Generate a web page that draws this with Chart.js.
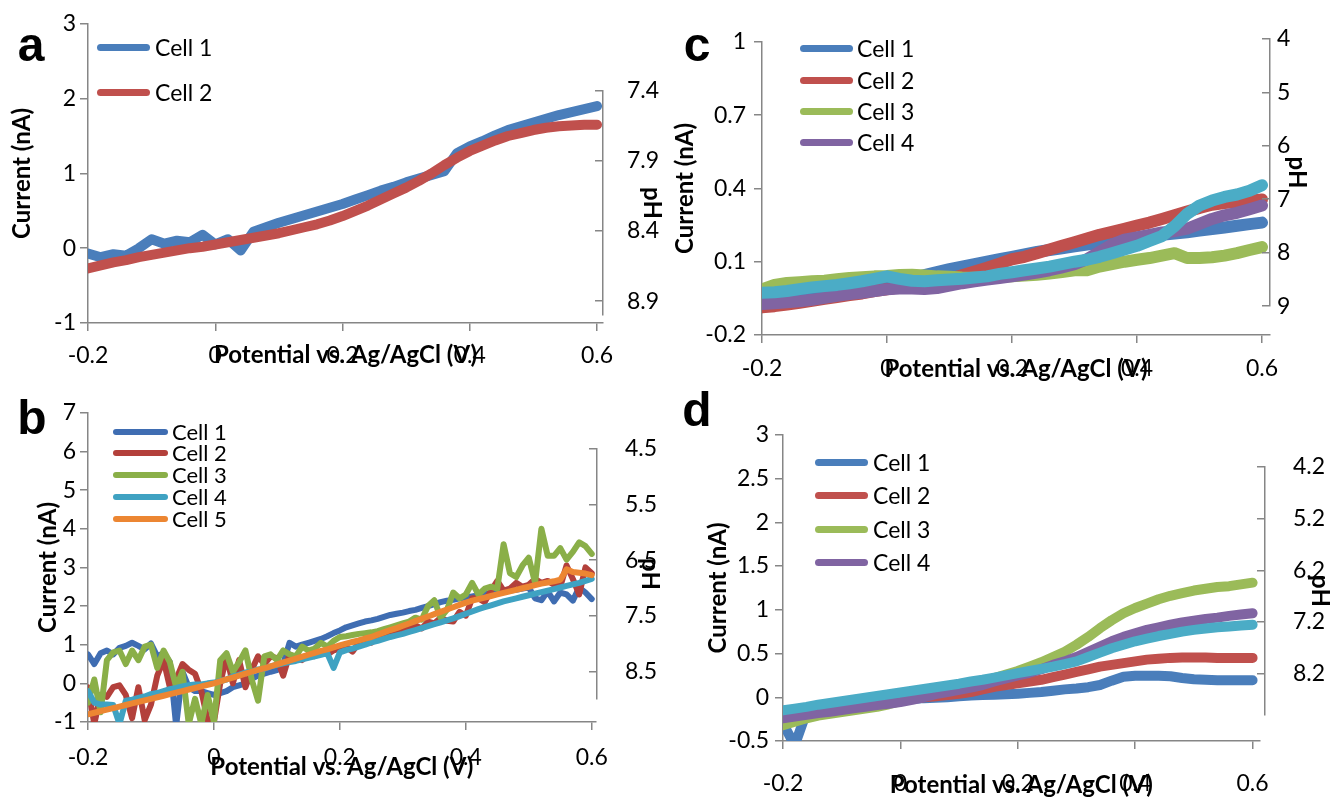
<!DOCTYPE html>
<html>
<head>
<meta charset="utf-8">
<script src="https://cdn.jsdelivr.net/npm/chart.js@4.4.1/dist/chart.umd.min.js"></script>
<style>
  body { margin: 0; background: #fff; width: 1336px; height: 801px; position: relative; overflow: hidden; }
  canvas { position: absolute; }
  .letter { position: absolute; font: bold 48px "Liberation Sans", Arial, sans-serif; transform: translate(-50%, -50%); line-height: 1; }
  .legline { position: absolute; }
  .legtext { position: absolute; font-family: Lato, sans-serif; color: #000; transform: translateY(-50%); line-height: 1; white-space: nowrap; }
</style>
</head>
<body>
<script>
// x values (potential, V)
const potential20 = [-0.2, -0.18, -0.16, -0.14, -0.12, -0.1, -0.08, -0.06, -0.04, -0.02, 0, 0.02, 0.04, 0.06, 0.08, 0.1, 0.12, 0.14, 0.16, 0.18, 0.2, 0.22, 0.24, 0.26, 0.28, 0.3, 0.32, 0.34, 0.36, 0.38, 0.4, 0.42, 0.44, 0.46, 0.48, 0.5, 0.52, 0.54, 0.56, 0.58, 0.6];
const potential10 = [-0.2, -0.19, -0.18, -0.17, -0.16, -0.15, -0.14, -0.13, -0.12, -0.11, -0.1, -0.09, -0.08, -0.07, -0.06, -0.05, -0.04, -0.03, -0.02, -0.01, 0, 0.01, 0.02, 0.03, 0.04, 0.05, 0.06, 0.07, 0.08, 0.09, 0.1, 0.11, 0.12, 0.13, 0.14, 0.15, 0.16, 0.17, 0.18, 0.19, 0.2, 0.21, 0.22, 0.23, 0.24, 0.25, 0.26, 0.27, 0.28, 0.29, 0.3, 0.31, 0.32, 0.33, 0.34, 0.35, 0.36, 0.37, 0.38, 0.39, 0.4, 0.41, 0.42, 0.43, 0.44, 0.45, 0.46, 0.47, 0.48, 0.49, 0.5, 0.51, 0.52, 0.53, 0.54, 0.55, 0.56, 0.57, 0.58, 0.59, 0.6];
const potentialTicks = [-0.2, 0, 0.2, 0.4, 0.6];
const cellNames = ["Cell 1", "Cell 2", "Cell 3", "Cell 4", "Cell 5"];

// panel a
const aCell1 = [-0.07, -0.12, -0.08, -0.10, 0.0, 0.12, 0.06, 0.10, 0.08, 0.18, 0.05, 0.12, -0.03, 0.22, 0.28, 0.34, 0.39, 0.44, 0.49, 0.54, 0.59, 0.65, 0.71, 0.77, 0.82, 0.88, 0.93, 0.98, 1.03, 1.27, 1.36, 1.43, 1.51, 1.58, 1.63, 1.68, 1.73, 1.78, 1.82, 1.86, 1.90];
const aCell2 = [-0.27, -0.23, -0.19, -0.16, -0.12, -0.09, -0.06, -0.03, 0.0, 0.02, 0.05, 0.08, 0.11, 0.14, 0.17, 0.20, 0.24, 0.28, 0.32, 0.37, 0.43, 0.50, 0.57, 0.65, 0.73, 0.81, 0.90, 1.00, 1.11, 1.21, 1.30, 1.37, 1.44, 1.50, 1.54, 1.58, 1.61, 1.63, 1.64, 1.65, 1.65];
const aCurrentTicks = [-1, 0, 1, 2, 3];
const aPhTicks = [7.4, 7.9, 8.4, 8.9];

// panel b
const bCell1 = [0.75, 0.5, 0.78, 0.85, 0.75, 0.92, 0.97, 1.05, 0.97, 0.88, 1.03, 0.7, 0.78, 0.55, -1.1,
  0.3, -0.1, -0.2, -0.2, -0.25, -0.3, -0.25, -0.2, -0.1, -0.05, 0.0, 0.12, 0.2, 0.25, 0.3, 0.34, 0.5, 1.05, 0.95, 1.0, 1.05, 1.1, 1.15, 1.22, 1.3, 1.37,
  1.45, 1.5, 1.55, 1.6, 1.63, 1.67, 1.72, 1.77, 1.8, 1.83, 1.87, 1.9, 1.95, 2.0, 2.05, 2.1, 2.14, 2.16, 2.2, 2.22, 2.25, 2.28, 2.3, 2.33, 2.35, 2.38, 2.4, 2.42, 2.45, 2.48, 2.2, 2.15, 2.38, 2.12, 2.35, 2.3, 2.14, 2.48, 2.35, 2.18];
const bCell2 = [-0.1, -1.05, -0.3, -0.35, -0.1, -0.05, -0.3, -0.9, -0.1, -0.95, -0.55, 0.2, 0.6, -0.1, 0.1, 0.5, 0.35, 0.25, -0.2, -0.95, -1.0, 0.0, 0.7, 0.0, 0.6, -0.1, 0.35, 0.7, 0.5, 0.7, 0.65, 0.2, 0.75, 0.65, 0.6, 0.75, 0.7, 0.8, 0.75, 0.85, 0.9,
  0.95, 0.82, 1.05, 1.1, 1.05, 1.2, 1.25, 1.35, 1.32, 1.4, 1.45, 1.5, 1.42, 1.6, 1.55, 1.7, 1.62, 1.6, 1.85, 1.75, 2.2, 2.2, 2.1, 2.4, 2.65, 2.4, 2.45, 2.6, 2.5, 2.55, 2.7, 2.6, 2.65, 2.55, 2.5, 3.05, 2.7, 2.3, 3.0, 2.85];
const bCell3 = [-0.5, 0.1, -0.75, 0.6, 0.8, 0.85, 0.5, 0.85, 0.6, 0.95, 1.0, 0.4, 0.85, 0.55, -0.1, 0.3, -1.05, -0.4, -1.05, -0.3, -1.0, 0.6, 0.78, 0.3, 0.55, 0.85, 0.1, -0.45, 0.7, 0.75, 0.6, 0.85, 0.75, 0.7, 0.95, 0.85, 0.9, 1.05, 0.95, 1.1, 1.2,
  1.22, 1.25, 1.28, 1.3, 1.32, 1.35, 1.4, 1.45, 1.5, 1.55, 1.6, 1.7, 1.65, 2.0, 2.15, 1.7, 1.9, 2.35, 2.2, 2.3, 2.6, 2.3, 2.45, 2.5, 2.45, 3.6, 2.85, 2.75, 3.05, 3.25, 2.6, 4.0, 3.3, 3.3, 3.5, 3.2, 3.4, 3.65, 3.55, 3.35];
const bCell4 = [-0.2, -0.5, -0.55, -0.55, -0.56, -1.05, -0.45, -0.42, -0.38, -0.34, -0.28, -0.25, -0.2, -0.15, -0.12, -0.08, -0.05, -0.03, -0.03, 0.0, 0.02, 0.06, 0.1, 0.18, 0.22, 0.28, 0.3, 0.36, 0.38, 0.44, 0.48, 0.52, 0.55, 0.58, 0.62, 0.66, 0.7, 0.74, 0.78, 0.4, 0.8,
  0.86, 0.9, 0.95, 1.0, 1.06, 1.1, 1.15, 1.2, 1.24, 1.28, 1.33, 1.38, 1.43, 1.48, 1.53, 1.58, 1.63, 1.68, 1.74, 1.8, 1.86, 1.92, 1.97, 2.02, 2.07, 2.12, 2.16, 2.2, 2.24, 2.28, 2.32, 2.36, 2.4, 2.44, 2.48, 2.52, 2.56, 2.6, 2.65, 2.7];
const bCell5 = [-0.8, -0.76, -0.72, -0.68, -0.64, -0.6, -0.56, -0.52, -0.48, -0.44, -0.4, -0.36, -0.32, -0.28, -0.24, -0.2, -0.16, -0.12, -0.08, -0.04, 0.0,
  0.05, 0.1, 0.15, 0.2, 0.25, 0.3, 0.35, 0.39, 0.44, 0.49, 0.54, 0.59, 0.64, 0.69, 0.74, 0.79, 0.84, 0.88, 0.93, 0.98,
  1.03, 1.07, 1.11, 1.16, 1.2, 1.26, 1.32, 1.38, 1.43, 1.49, 1.55, 1.61, 1.67, 1.73, 1.79, 1.85, 1.91, 1.97, 2.03, 2.09,
  2.14, 2.18, 2.22, 2.26, 2.3, 2.34, 2.38, 2.42, 2.46, 2.5, 2.54, 2.58, 2.61, 2.64, 2.68, 2.95, 2.88, 2.86, 2.84, 2.8];
const bCurrentTicks = [-1, 0, 1, 2, 3, 4, 5, 6, 7];
const bPhTicks = [4.5, 5.5, 6.5, 7.5, 8.5];

// panel c
const cCell1 = [-0.035, -0.033, -0.03, -0.028, -0.025, -0.02, -0.015, -0.01, -0.005, 0.0, 0.01, 0.02, 0.032, 0.045, 0.058, 0.07, 0.08, 0.09, 0.1, 0.11, 0.12, 0.13, 0.14, 0.148, 0.155, 0.163, 0.17, 0.177, 0.185, 0.192, 0.198, 0.205, 0.21, 0.215, 0.22, 0.227, 0.234, 0.24, 0.247, 0.254, 0.26];
const cCell2 = [-0.087, -0.082, -0.075, -0.068, -0.06, -0.052, -0.045, -0.037, -0.03, -0.02, -0.013, -0.005, 0.0, 0.008, 0.018, 0.03, 0.045, 0.06, 0.075, 0.092, 0.11, 0.12, 0.135, 0.15, 0.165, 0.18, 0.195, 0.21, 0.222, 0.235, 0.248, 0.26, 0.275, 0.29, 0.305, 0.32, 0.333, 0.34, 0.345, 0.35, 0.355];
const cCell3 = [-0.013, 0.005, 0.013, 0.016, 0.02, 0.022, 0.028, 0.033, 0.036, 0.04, 0.042, 0.046, 0.047, 0.044, 0.04, 0.038, 0.035, 0.034, 0.035, 0.038, 0.04, 0.043, 0.047, 0.052, 0.058, 0.065, 0.065, 0.08, 0.09, 0.1, 0.108, 0.115, 0.125, 0.135, 0.115, 0.115, 0.118, 0.125, 0.135, 0.148, 0.16];
const cCell4 = [-0.073, -0.07, -0.066, -0.062, -0.056, -0.048, -0.04, -0.032, -0.027, -0.02, -0.013, -0.01, -0.01, -0.012, -0.008, 0.002, 0.012, 0.02, 0.027, 0.033, 0.04, 0.047, 0.055, 0.065, 0.077, 0.09, 0.11, 0.14, 0.17, 0.19, 0.2, 0.21, 0.22, 0.225, 0.235, 0.255, 0.275, 0.29, 0.3, 0.315, 0.33];
const cCell5 = [-0.027, -0.025, -0.02, -0.012, -0.005, 0.0, 0.005, 0.012, 0.02, 0.03, 0.04, 0.03, 0.022, 0.02, 0.024, 0.027, 0.03, 0.035, 0.04, 0.05, 0.057, 0.065, 0.072, 0.08, 0.09, 0.1, 0.108, 0.12, 0.135, 0.15, 0.165, 0.185, 0.205, 0.245, 0.295, 0.33, 0.35, 0.365, 0.375, 0.39, 0.413];
const cCurrentTicks = [-0.2, 0.1, 0.4, 0.7, 1];
const cPhTicks = [4, 5, 6, 7, 8, 9];

// panel d
const dCell1 = [-0.3, -0.55, -0.17, -0.14, -0.12, -0.1, -0.08, -0.065, -0.05, -0.04, -0.03, -0.02, -0.01, -0.005, 0.0, 0.01, 0.02, 0.025, 0.03, 0.035, 0.04, 0.05, 0.06, 0.075, 0.09, 0.1, 0.115, 0.14, 0.19, 0.235, 0.245, 0.245, 0.245, 0.24, 0.22, 0.205, 0.2, 0.195, 0.195, 0.195, 0.195];
const dCell2 = [-0.22, -0.2, -0.18, -0.16, -0.14, -0.12, -0.1, -0.08, -0.06, -0.045, -0.03, -0.015, 0.0, 0.01, 0.025, 0.04, 0.06, 0.09, 0.12, 0.14, 0.16, 0.18, 0.2, 0.23, 0.26, 0.29, 0.32, 0.35, 0.37, 0.39, 0.41, 0.43, 0.44, 0.45, 0.455, 0.455, 0.455, 0.45, 0.45, 0.45, 0.45];
const dCell3 = [-0.32, -0.28, -0.24, -0.21, -0.19, -0.17, -0.15, -0.13, -0.11, -0.08, -0.045, -0.01, 0.02, 0.06, 0.09, 0.12, 0.15, 0.18, 0.22, 0.26, 0.3, 0.35, 0.4, 0.46, 0.52, 0.6, 0.69, 0.79, 0.88, 0.96, 1.02, 1.07, 1.12, 1.16, 1.19, 1.22, 1.24, 1.26, 1.27, 1.29, 1.31];
const dCell4 = [-0.24, -0.22, -0.2, -0.18, -0.165, -0.145, -0.125, -0.11, -0.09, -0.075, -0.056, -0.03, 0.0, 0.035, 0.06, 0.085, 0.11, 0.14, 0.18, 0.215, 0.25, 0.28, 0.32, 0.37, 0.41, 0.46, 0.52, 0.58, 0.64, 0.69, 0.73, 0.77, 0.8, 0.83, 0.855, 0.875, 0.895, 0.91, 0.93, 0.945, 0.96];
const dCell5 = [-0.15, -0.13, -0.11, -0.085, -0.065, -0.045, -0.025, -0.005, 0.015, 0.035, 0.055, 0.075, 0.095, 0.115, 0.135, 0.155, 0.18, 0.2, 0.225, 0.25, 0.275, 0.3, 0.325, 0.35, 0.38, 0.41, 0.46, 0.51, 0.56, 0.6, 0.64, 0.67, 0.7, 0.725, 0.75, 0.77, 0.785, 0.8, 0.81, 0.82, 0.83];
const dCurrentTicks = [-0.5, 0, 0.5, 1, 1.5, 2, 2.5, 3];
const dPhTicks = [4.2, 5.2, 6.2, 7.2, 8.2];

const FONT = "Lato, 'Open Sans', sans-serif";
const AXIS = "#868686";
const TITLE_SIZE = 24;
const TITLE_LH = TITLE_SIZE * 1.2;

const excel = ["#4A7EBB", "#C0504D", "#9BBB59", "#8064A2", "#4BACC6"];
const panels = [
  { letter: "a", lx: 31, ly: 45, x: potential20, series: [aCell1, aCell2], colors: excel, lw: 10,
    L: 88, R: 603, T: 21, B: 323, xMax: 0.6094, yMin: -1, yMax: 3, yTicks: aCurrentTicks,
    yTitleX: 22, yTickPad: 4, xTickPad: 11, xTitleY: 356,
    ph: { top: 68, bottom: 338, min: 7.4, max: 9.0, ticks: aPhTicks, pad: 24, titleX: 652 },
    leg: { n: 2, x: 97, w: 53, tx: 155, ys: [47, 92], size: 23, h: 7 } },
  { letter: "b", lx: 32, ly: 418, x: potential10, series: [bCell1, bCell2, bCell3, bCell4, bCell5],
    colors: ["#3F6DB2", "#B3403B", "#8AAF48", "#3FA2C2", "#EC8632"], lw: 6,
    L: 88, R: 597, T: 410, B: 722, xMax: 0.6063, yMin: -1, yMax: 7, yTicks: bCurrentTicks,
    yTitleX: 48, yTickPad: 4, xTickPad: 14, xTitleY: 768,
    ph: { top: 422, bottom: 726, min: 4.5, max: 9.0, ticks: bPhTicks, pad: 28, titleX: 650 },
    leg: { n: 5, x: 113, w: 55, tx: 172, ys: [432, 453, 475, 497, 519], size: 22, h: 6 } },
  { letter: "c", lx: 697, ly: 45, x: potential20, series: [cCell1, cCell2, cCell3, cCell4, cCell5], colors: excel, lw: 12,
    L: 762, R: 1270, T: 35, B: 335, xMax: 0.6128, yMin: -0.2, yMax: 1, yTicks: cCurrentTicks,
    yTitleX: 685, yTickPad: 8, xTickPad: 12, xTitleY: 370,
    ph: { top: 33, bottom: 312, min: 4, max: 9, ticks: cPhTicks, pad: 7, titleX: 1297 },
    leg: { n: 4, x: 800, w: 53, tx: 857, ys: [48, 80, 111, 142], size: 23, h: 7 } },
  { letter: "d", lx: 697, ly: 410, x: potential20, series: [dCell1, dCell2, dCell3, dCell4, dCell5], colors: excel, lw: 10,
    L: 783, R: 1265, T: 430, B: 741, xMax: 0.6118, yMin: -0.5, yMax: 3, yTicks: dCurrentTicks,
    yTitleX: 718, yTickPad: 6, xTickPad: 21, xTitleY: 786,
    ph: { top: 440, bottom: 742, min: 4.2, max: 9.0, ticks: dPhTicks, pad: 28, titleX: 1320 },
    leg: { n: 4, x: 815, w: 53, tx: 873, ys: [462, 495, 529, 562], size: 23, h: 7 } }
];

function toPoints(xs, ys) {
  return xs.map((x, i) => ({ x: x, y: ys[i] }));
}

function addCanvas(left, top, w, h) {
  const cv = document.createElement("canvas");
  cv.width = w;
  cv.height = h;
  cv.style.left = left + "px";
  cv.style.top = top + "px";
  document.body.appendChild(cv);
  return cv;
}

const tickFont = { family: FONT, size: 23 };
const titleFont = { family: FONT, size: TITLE_SIZE, weight: "bold" };

function drawMain(p) {
  const padTop = 15, padRight = 25;
  const left = Math.round(p.yTitleX - TITLE_LH / 2);
  const wy = p.L - left;
  const hx = Math.round(p.xTitleY + TITLE_LH / 2 - p.B);
  const cv = addCanvas(left, p.T - padTop, wy + (p.R - p.L) + padRight, padTop + (p.B - p.T) + hx);

  new Chart(cv, {
    type: "line",
    data: {
      datasets: p.series.map((s, i) => ({
        label: cellNames[i],
        data: toPoints(p.x, s),
        borderColor: p.colors[i],
        borderWidth: p.lw,
        borderCapStyle: "round",
        borderJoinStyle: "round",
        pointRadius: 0,
        tension: 0,
        clip: 0,
        order: -i
      }))
    },
    options: {
      responsive: false,
      animation: false,
      layout: { padding: { left: 0, top: padTop, right: padRight, bottom: 0 } },
      plugins: { legend: { display: false }, tooltip: { enabled: false } },
      scales: {
        x: {
          type: "linear", min: -0.2, max: p.xMax,
          afterBuildTicks: (ax) => { ax.ticks = potentialTicks.map((v) => ({ value: v })); },
          afterFit: (ax) => { ax.height = hx; },
          ticks: { autoSkip: false, maxRotation: 0, padding: p.xTickPad, color: "#000", font: tickFont, callback: (v) => String(v) },
          grid: { drawOnChartArea: false, tickLength: 8, color: AXIS, lineWidth: 1.5 },
          border: { color: AXIS, width: 1.5 },
          title: { display: true, text: "Potential vs. Ag/AgCl (V)", color: "#000", font: titleFont, padding: 0 }
        },
        y: {
          type: "linear", min: p.yMin, max: p.yMax,
          afterBuildTicks: (ax) => { ax.ticks = p.yTicks.map((v) => ({ value: v })); },
          afterFit: (ax) => { ax.width = wy; },
          ticks: { autoSkip: false, padding: p.yTickPad, color: "#000", font: tickFont, callback: (v) => String(v) },
          grid: { drawOnChartArea: false, tickLength: 8, color: AXIS, lineWidth: 1.5 },
          border: { color: AXIS, width: 1.5 },
          title: { display: true, text: "Current (nA)", color: "#000", font: titleFont, padding: 0 }
        }
      }
    }
  });
}

// pH axis: its own little chart, so it can be shorter than the current axis
function drawPh(p) {
  const pad = 15, inner = 8;
  const wr = Math.round(p.ph.titleX - p.R + TITLE_LH / 2);
  const cv = addCanvas(p.R - inner, p.ph.top - pad, inner + wr, p.ph.bottom - p.ph.top + 2 * pad);

  new Chart(cv, {
    type: "line",
    data: { datasets: [] },
    options: {
      responsive: false,
      animation: false,
      layout: { padding: { left: 0, top: pad, right: 0, bottom: pad } },
      plugins: { legend: { display: false }, tooltip: { enabled: false } },
      scales: {
        x: { type: "linear", display: false, min: 0, max: 1 },
        y: {
          type: "linear", position: "right", reverse: true, min: p.ph.min, max: p.ph.max,
          afterBuildTicks: (ax) => { ax.ticks = p.ph.ticks.map((v) => ({ value: v })); },
          afterFit: (ax) => { ax.width = wr; },
          ticks: { autoSkip: false, padding: p.ph.pad, color: "#000", font: tickFont, callback: (v) => String(v) },
          grid: { drawOnChartArea: true, drawTicks: false, color: AXIS, lineWidth: 1.5 },
          border: { color: AXIS, width: 1.5 },
          title: { display: true, text: "pH", color: "#000", font: titleFont, padding: 0 }
        }
      }
    }
  });
}

function drawLegend(p) {
  const g = p.leg;
  for (let i = 0; i < g.n; i++) {
    const line = document.createElement("div");
    line.className = "legline";
    line.style.cssText = "left:" + g.x + "px;top:" + (g.ys[i] - g.h / 2) + "px;width:" + g.w + "px;height:" + g.h +
      "px;border-radius:" + g.h / 2 + "px;background:" + p.colors[i];
    document.body.appendChild(line);
    const t = document.createElement("div");
    t.className = "legtext";
    t.style.cssText = "left:" + g.tx + "px;top:" + g.ys[i] + "px;font-size:" + g.size + "px";
    t.textContent = cellNames[i];
    document.body.appendChild(t);
  }
  const l = document.createElement("div");
  l.className = "letter";
  l.style.left = p.lx + "px";
  l.style.top = p.ly + "px";
  l.textContent = p.letter;
  document.body.appendChild(l);
}

panels.forEach((p) => {
  drawMain(p);
  drawPh(p);
  drawLegend(p);
});
</script>
</body>
</html>
